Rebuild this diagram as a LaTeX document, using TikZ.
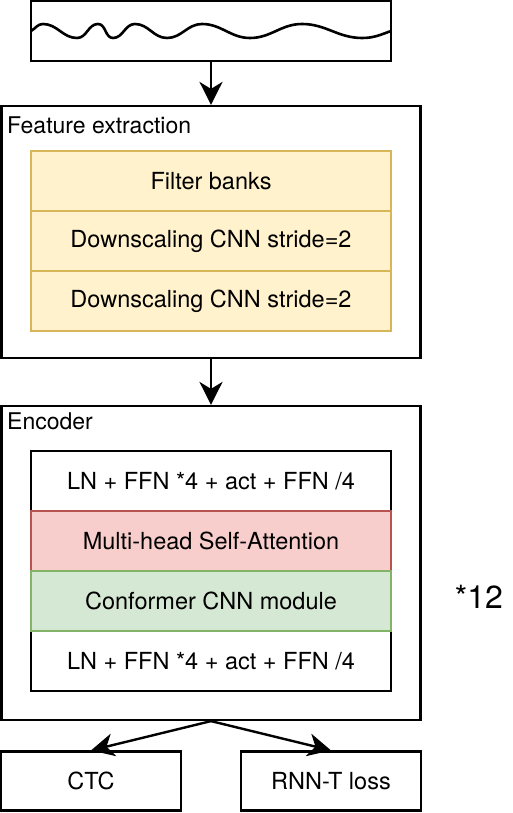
\documentclass[tikz,border=0pt]{standalone}
\usepackage{fontspec}
\setmainfont{TeX Gyre Heros}
\usetikzlibrary{arrows.meta}
\definecolor{yfill}{HTML}{FFF2CC}
\definecolor{ydraw}{HTML}{D6B656}
\definecolor{rfill}{HTML}{F8CECC}
\definecolor{rdraw}{HTML}{B85450}
\definecolor{gfill}{HTML}{D5E8D4}
\definecolor{gdraw}{HTML}{82B366}
\tikzset{
  outerbox/.style={draw=black, line width=2.2pt, fill=white, rectangle, inner sep=0pt},
  blockbox/.style={rectangle, line width=2pt, minimum width=360pt, minimum height=60pt, inner sep=0pt, font=\fontsize{23.5}{27}\selectfont},
  plainblk/.style={blockbox, draw=black, fill=white},
  yblk/.style={blockbox, draw=ydraw, fill=yfill},
  rblk/.style={blockbox, draw=rdraw, fill=rfill},
  gblk/.style={blockbox, draw=gdraw, fill=gfill},
  lossbox/.style={rectangle, draw=black, line width=2.2pt, minimum width=180pt, minimum height=59pt, inner sep=0pt, font=\fontsize{23.5}{27}\selectfont},
  grouplabel/.style={anchor=west, inner sep=0pt, font=\fontsize{23}{27}\selectfont},
  arr/.style={line width=2.4pt, -{Stealth[length=23pt,width=23pt,inset=7pt]}},
}
\begin{document}
\begin{tikzpicture}[x=1pt,y=-1pt]
\useasboundingbox (0,0) rectangle (513,813);
% waveform box
\node[outerbox, minimum width=360pt, minimum height=60pt] (wave) at (211,31) {};
\draw[line width=2.6pt, line join=round]
  (31,31) to[out=30,in=180] (43,24) to[out=0,in=180] (77,38)
  to[out=0,in=180] (98,24) to[out=0,in=180] (113,38)
  to[out=0,in=180] (135,24) to[out=0,in=180] (167,38)
  to[out=0,in=180] (202,24) to[out=0,in=180] (250,38)
  to[out=0,in=180] (302,24) to[out=0,in=180] (362,38)
  to[out=0,in=200] (391,31);
% feature extraction
\node[outerbox, minimum width=419pt, minimum height=252pt] (feat) at (211,232) {};
\node[grouplabel] (featlbl) at (7,125) {Feature extraction};
\node[yblk] (fb) at (211,181) {Filter banks};
\node[yblk] (cnn1) at (211,241) {Downscaling CNN stride=2};
\node[yblk] (cnn2) at (211,301) {Downscaling CNN stride=2};
% encoder
\node[outerbox, minimum width=419pt, minimum height=314pt] (enc) at (211,563) {};
\node[grouplabel] (enclbl) at (7,421) {Encoder};
\node[plainblk] (ffn1) at (211,481) {LN + FFN *4 + act + FFN /4};
\node[plainblk] (ffn2) at (211,661) {LN + FFN *4 + act + FFN /4};
\node[rblk] (mhsa) at (211,541) {Multi-head Self-Attention};
\node[gblk] (conf) at (211,601) {Conformer CNN module};
\node[inner sep=0pt, font=\fontsize{32}{36}\selectfont] (rep) at (479,597) {*12};
% losses
\node[lossbox] (ctc) at (91,781) {CTC};
\node[lossbox] (rnnt) at (331,781) {RNN-T loss};
% arrows
\draw[arr] (wave.south) -- (feat.north);
\draw[arr] (feat.south) -- (enc.north);
\draw[arr] (enc.south) -- (ctc.north);
\draw[arr] (enc.south) -- (rnnt.north);
\end{tikzpicture}
\end{document}
